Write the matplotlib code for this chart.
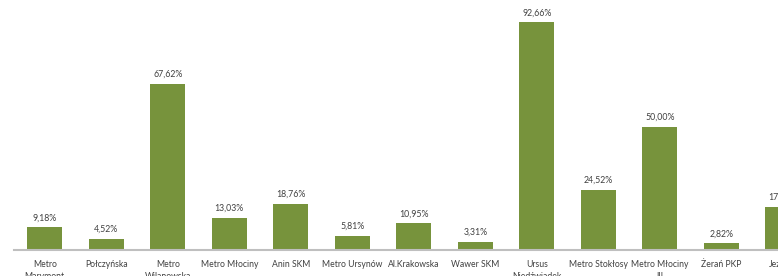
import matplotlib
matplotlib.use('Agg')
import matplotlib.pyplot as plt

stations = ['Metro\nMarymont', 'Połczyńska', 'Metro\nWilanowska', 'Metro Młociny',
            'Anin SKM', 'Metro Ursynów', 'Al.Krakowska', 'Wawer SKM',
            'Ursus\nNiedźwiadek', 'Metro Stokłosy', 'Metro Młociny\nIII',
            'Żerań PKP', 'Jeziorki']
shares = [9.18, 4.52, 67.62, 13.03, 18.76, 5.81, 10.95, 3.31,
          92.66, 24.52, 50.00, 2.82, 17.48]

plt.rcParams['font.family'] = ['Lato', 'DejaVu Sans']

fig = plt.figure(figsize=(7.78, 2.76), dpi=100)
# axes runs past the right edge, the last bar is cut off like in the source
ax = fig.add_axes([14 / 778, 26 / 276, 799.5 / 778, 246 / 276])

x = range(len(stations))
ax.bar(x, shares, width=0.57, color='#77933C')
for i, v in enumerate(shares):
    ax.annotate(f'{v:.2f}%'.replace('.', ','), (i, v), xytext=(0, 3.5),
                textcoords='offset points', ha='center', va='bottom',
                fontsize=6.3, color='#404040')

ax.set_xlim(-0.5, len(stations) - 0.5)
ax.set_ylim(0, 100)
ax.set_xticks(list(x))
ax.set_xticklabels(stations, fontsize=6.2, color='#404040', linespacing=1.5)
ax.tick_params(axis='x', length=0, pad=7)
ax.set_yticks([])
for s in ['top', 'right', 'left']:
    ax.spines[s].set_visible(False)
ax.spines['bottom'].set_color('#BFBFBF')
ax.spines['bottom'].set_linewidth(1.5)

fig.savefig('out.png', dpi=100)
